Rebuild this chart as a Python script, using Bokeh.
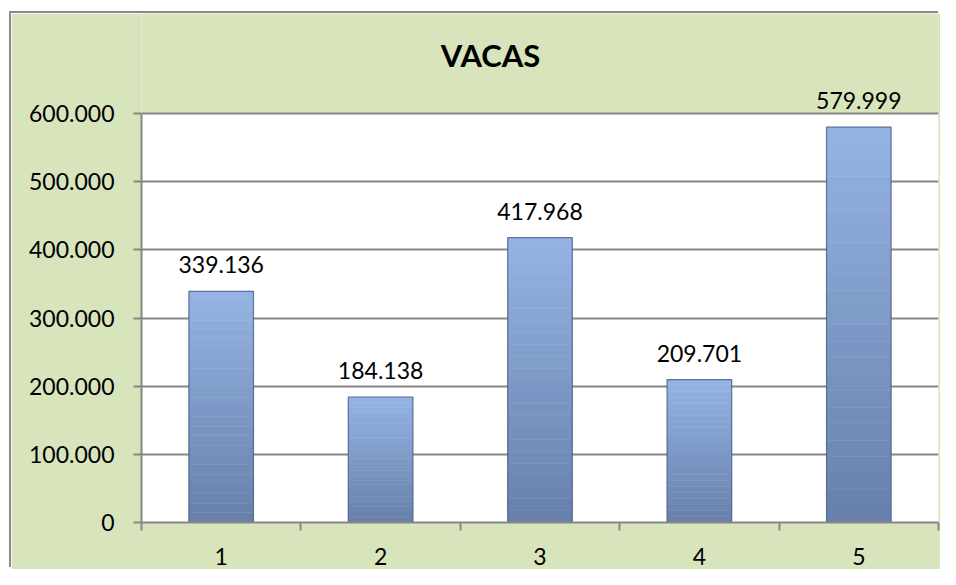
from bokeh.plotting import figure
from bokeh.models import ColumnDataSource, FixedTicker, Range1d, LabelSet, Label, BoxAnnotation
from bokeh.core.properties import value
from bokeh.embed import file_html
from bokeh.resources import INLINE

# ---- data ----
categories = [1, 2, 3, 4, 5]
values = [339136, 184138, 417968, 209701, 579999]
y_ticks = [0, 100000, 200000, 300000, 400000, 500000, 600000]
title_text = "VACAS"

def fmt(v):
    return f"{v:,}".replace(",", ".")

FONT = "Lato"
GREEN = "#d8e4bc"
GRID = "#868686"

# ---- layout (pixels in the page) ----
FIG_TOP, FIG_LEFT = 13, 11
FIG_W, FIG_H = 929, 556
PLOT_LEFT, PLOT_RIGHT = 141, 938
AXIS_Y, TOP_GRID_Y = 522, 113
TITLE_CX, TITLE_BASE = 490, 54

x0, x1 = categories[0] - 0.5, categories[-1] + 0.5
y_per_px = y_ticks[-1] / (AXIS_Y - TOP_GRID_Y)
y_top = (AXIS_Y - FIG_TOP) * y_per_px

p = figure(width=FIG_W, height=FIG_H, output_backend="svg", toolbar_location=None,
           title=None,
           x_range=Range1d(x0, x1), y_range=Range1d(y_ticks[0], y_top),
           min_border_left=PLOT_LEFT - FIG_LEFT, min_border_right=FIG_LEFT + FIG_W - PLOT_RIGHT,
           min_border_top=0, min_border_bottom=FIG_TOP + FIG_H - AXIS_Y,
           background_fill_color=GREEN, border_fill_color=GREEN,
           outline_line_color=None)
p.margin = (FIG_TOP, 0, 0, FIG_LEFT)
p.styles = {"box-shadow": "-2px -2px 0 0 #8a8a8a"}

# white plot area (0 .. top tick)
p.add_layout(BoxAnnotation(bottom=y_ticks[0], top=y_ticks[-1], fill_color="white",
                           fill_alpha=1, line_color=None, level="image"))

# title
p.add_layout(Label(x=x0 + (TITLE_CX - PLOT_LEFT) / (PLOT_RIGHT - PLOT_LEFT) * (x1 - x0),
                   y=(AXIS_Y - TITLE_BASE) * y_per_px, text=title_text,
                   text_font=FONT, text_font_style="bold", text_font_size="31px",
                   text_align="center", text_baseline="alphabetic", text_color="black"))

# gradient bars (slices between 0 and value)
N = 24
def lerp(c1, c2, t):
    a = [int(c1[i:i + 2], 16) for i in (1, 3, 5)]
    b = [int(c2[i:i + 2], 16) for i in (1, 3, 5)]
    return "#%02x%02x%02x" % tuple(round(a[k] + (b[k] - a[k]) * t) for k in range(3))

bottom_col = "#6780ab"
top_col = "#95b3e3"
xs, bots, tops, cols = [], [], [], []
for c, v in zip(categories, values):
    for i in range(N):
        xs.append(c)
        bots.append(v * i / N)
        tops.append(v * (i + 1) / N)
        cols.append(lerp(bottom_col, top_col, (i + 0.5) / N))
slices = ColumnDataSource(dict(x=xs, bottom=bots, top=tops, color=cols))

# grid
p.xgrid.grid_line_color = None
p.ygrid.grid_line_color = GRID
p.ygrid.grid_line_width = 2
p.ygrid.ticker = FixedTicker(ticks=y_ticks)

p.vbar(x="x", bottom="bottom", top="top", width=0.405, source=slices,
       fill_color="color", line_color="color", line_width=0.5)

src = ColumnDataSource(dict(x=categories, top=values, label=[fmt(v) for v in values]))
p.vbar(x="x", top="top", width=0.405, source=src, fill_color=None,
       line_color="#4b5e82", line_width=1.2, line_alpha=0.8)

labels = LabelSet(x="x", y="top", text="label", source=src, text_align="center",
                  text_baseline="alphabetic", y_offset=18, text_font=value(FONT),
                  text_font_size=value("23px"), text_color="black")
p.add_layout(labels)

# y axis
yax = p.yaxis[0]
yax.bounds = (y_ticks[0], y_ticks[-1])
yax.ticker = FixedTicker(ticks=y_ticks)
yax.major_label_overrides = {t: fmt(t) for t in y_ticks}
yax.axis_line_color = GRID
yax.axis_line_width = 2
yax.major_tick_line_color = GRID
yax.major_tick_line_width = 2
yax.major_tick_in = 0
yax.major_tick_out = 8
yax.minor_tick_line_color = None
yax.major_label_text_font = FONT
yax.major_label_text_font_size = "23px"
yax.major_label_text_color = "black"
yax.major_label_standoff = 19

# x axis
xax = p.xaxis[0]
xax.ticker = FixedTicker(ticks=categories,
                         minor_ticks=[c - 0.5 for c in categories] + [categories[-1] + 0.5])
xax.axis_line_color = GRID
xax.axis_line_width = 2
xax.major_tick_line_color = None
xax.major_tick_in = 0
xax.major_tick_out = 0
xax.minor_tick_line_color = GRID
xax.minor_tick_line_width = 2
xax.minor_tick_in = 0
xax.minor_tick_out = 8
xax.major_label_text_font = FONT
xax.major_label_text_font_size = "23px"
xax.major_label_text_color = "black"
xax.major_label_standoff = 17

open("out.html", "w").write(file_html(p, INLINE))
